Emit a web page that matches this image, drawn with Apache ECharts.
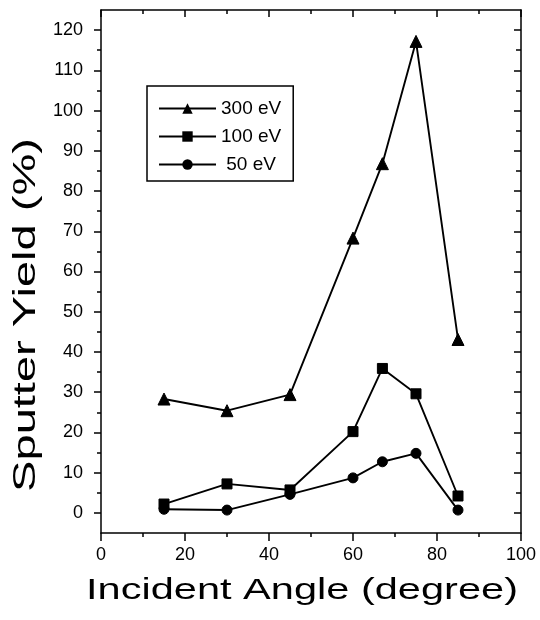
<!DOCTYPE html>
<html>
<head>
<meta charset="utf-8">
<script src="https://cdn.jsdelivr.net/npm/echarts@6/dist/echarts.min.js"></script>
<style>
html,body{margin:0;padding:0;background:#fff;}
#chart{width:540px;height:620px;}
</style>
</head>
<body>
<div id="chart"></div>
<script>
// ---- data ----
const angles = [15, 30, 45, 60, 67, 75, 85];
const yield300 = [28.3, 25.4, 29.4, 68.3, 86.8, 117.2, 43.1];
const yield100 = [2.2, 7.2, 5.7, 20.2, 35.9, 29.6, 4.2];
const yield50  = [0.9, 0.7, 4.6, 8.7, 12.7, 14.8, 0.7];
const seriesNames = ['300 eV', '100 eV', '50 eV'];
const xTicks = [0, 20, 40, 60, 80, 100];
const yTicks = [0, 10, 20, 30, 40, 50, 60, 70, 80, 90, 100, 110, 120];
const yMinorTicks = [5, 15, 25, 35, 45, 55, 65, 75, 85, 95, 105, 115];
const xTitle = 'Incident Angle (degree)';
const yTitle = 'Sputter Yield (%)';

const FONT = '"Liberation Sans", Arial, Helvetica, sans-serif';
const INK = '#000';

function pairs(xs, ys) { return xs.map((x, i) => [x, ys[i]]); }

const chart = echarts.init(document.getElementById('chart'), null, {renderer: 'canvas'});

const lineStyle = {color: INK, width: 1.9};
function mkSeries(name, ys, symbol, size) {
  return {
    name: name, type: 'line', xAxisIndex: 0, yAxisIndex: 0,
    data: pairs(angles, ys),
    symbol: symbol, symbolSize: size,
    lineStyle: lineStyle,
    itemStyle: {color: INK, borderColor: INK},
    animation: false,
    z: 5
  };
}

const yBase = {min: -5, max: 125, interval: 5, type: 'value', splitLine: {show: false}};

chart.setOption({
  backgroundColor: '#fff',
  animation: false,
  grid: {left: 101, right: 19, top: 10, bottom: 87, containLabel: false},
  legend: {
    show: true, orient: 'vertical', left: 147, top: 86,
    data: seriesNames,
    itemWidth: 57, itemHeight: 13, itemGap: 9,
    padding: [13, 12, 7, 11],
    borderColor: INK, borderWidth: 1.5,
    backgroundColor: '#fff',
    textStyle: {fontFamily: FONT, fontSize: 19, color: INK},
    formatter: n => (n === '50 eV' ? ' ' + n : n)
  },
  xAxis: [
    {
      type: 'value', position: 'bottom', min: xTicks[0], max: xTicks[xTicks.length - 1], interval: 20,
      axisLine: {show: true, onZero: false, lineStyle: {color: INK, width: 1.5}},
      axisTick: {show: true, inside: false, length: 8, lineStyle: {color: INK, width: 1.5}},
      minorTick: {show: true, splitNumber: 2, length: 4, lineStyle: {color: INK, width: 1.5}},
      axisLabel: {show: true, margin: 13, fontFamily: FONT, fontSize: 18, color: INK},
      splitLine: {show: false}, minorSplitLine: {show: false}
    },
    {
      type: 'value', position: 'top', min: xTicks[0], max: xTicks[xTicks.length - 1], interval: 20,
      axisLine: {show: true, onZero: false, lineStyle: {color: INK, width: 1.5}},
      axisTick: {show: true, inside: true, length: 7, lineStyle: {color: INK, width: 1.5}},
      minorTick: {show: true, splitNumber: 2, length: 4, lineStyle: {color: INK, width: 1.5}},
      axisLabel: {show: false},
      splitLine: {show: false}
    }
  ],
  yAxis: [
    Object.assign({}, yBase, {
      position: 'left',
      axisLine: {show: true, onZero: false, lineStyle: {color: INK, width: 1.5}},
      axisTick: {show: true, inside: false, length: 7, customValues: yTicks, lineStyle: {color: INK, width: 1.5}},
      axisLabel: {show: true, margin: 18, customValues: yTicks, fontFamily: FONT, fontSize: 18, color: INK}
    }),
    Object.assign({}, yBase, {
      position: 'left', offset: 0,
      axisLine: {show: false, onZero: false},
      axisTick: {show: true, inside: false, length: 4, customValues: yMinorTicks, lineStyle: {color: INK, width: 1.5}},
      axisLabel: {show: false}
    }),
    Object.assign({}, yBase, {
      position: 'right', offset: 0,
      axisLine: {show: true, onZero: false, lineStyle: {color: INK, width: 1.5}},
      axisTick: {show: true, inside: true, length: 7, customValues: yTicks, lineStyle: {color: INK, width: 1.5}},
      axisLabel: {show: false}
    }),
    Object.assign({}, yBase, {
      position: 'right', offset: 0,
      axisLine: {show: false, onZero: false},
      axisTick: {show: true, inside: true, length: 5, customValues: yMinorTicks, lineStyle: {color: INK, width: 1.5}},
      axisLabel: {show: false}
    })
  ],
  series: [
    mkSeries(seriesNames[0], yield300, 'triangle', 12),
    mkSeries(seriesNames[1], yield100, 'rect', 10),
    mkSeries(seriesNames[2], yield50, 'circle', 10)
  ],
  graphic: [
    {
      type: 'text', x: 302, y: 591, scaleX: 1.385, scaleY: 1,
      style: {text: xTitle, fontFamily: FONT, fontSize: 30, fill: INK, textAlign: 'center', textVerticalAlign: 'middle'}
    },
    {
      type: 'text', x: 26, y: 315, rotation: Math.PI / 2, scaleX: 1.47, scaleY: 1,
      style: {text: yTitle, fontFamily: FONT, fontSize: 32, fill: INK, textAlign: 'center', textVerticalAlign: 'middle'}
    }
  ]
});
</script>
</body>
</html>
